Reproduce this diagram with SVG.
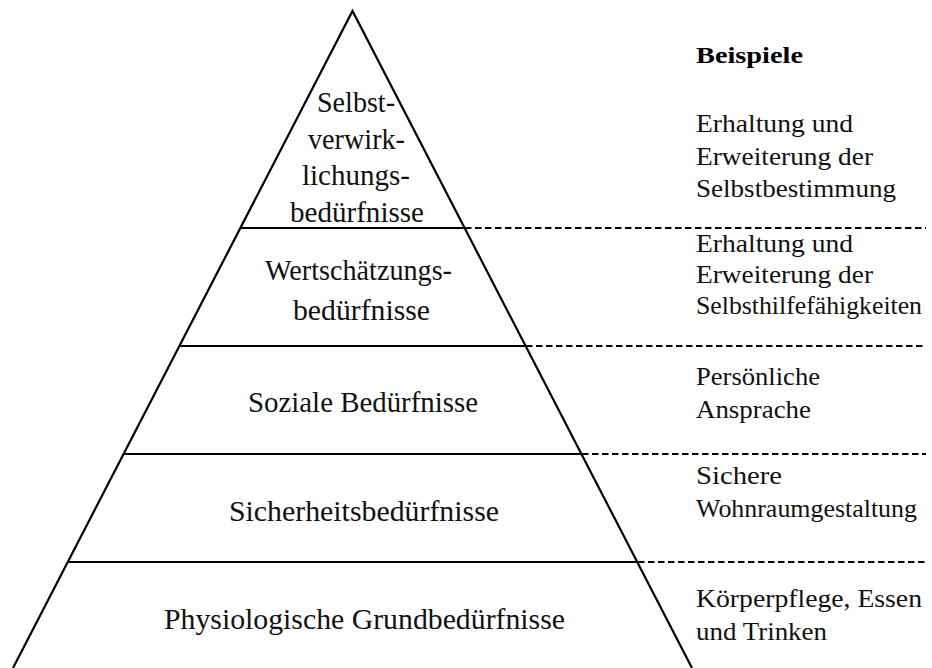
<svg xmlns="http://www.w3.org/2000/svg" width="932" height="668" viewBox="0 0 932 668">
<style>
.edge{stroke:#000;stroke-width:2.2;fill:none;stroke-linecap:butt}
.dash{stroke:#000;stroke-width:2;fill:none;stroke-dasharray:6.5 3.5}
.lvl{font-family:'Liberation Serif',serif;font-size:28.5px;fill:#111}
.ex{font-family:'Liberation Serif',serif;font-size:25px;fill:#111}
.hd{font-family:'Liberation Serif',serif;font-size:24px;font-weight:bold;fill:#000}
</style>
<rect width="932" height="668" fill="#fff"/>
<g id="pyramid">
<polyline class="edge" points="13,668 352.5,11 692,668"/>
</g>
<g id="connectors">
<line class="edge" x1="241" y1="228" x2="464" y2="228"/>
<line class="edge" x1="180" y1="346" x2="525" y2="346"/>
<line class="edge" x1="124" y1="454" x2="581" y2="454"/>
<line class="edge" x1="68" y1="562" x2="637" y2="562"/>
<line class="dash" x1="465" y1="228" x2="926" y2="228"/>
<line class="dash" x1="526" y1="346" x2="926" y2="346"/>
<line class="dash" x1="582" y1="454" x2="926" y2="454"/>
<line class="dash" x1="638" y1="562" x2="926" y2="562"/>
</g>
<g id="level5">
<text class="lvl" x="317" y="112" textLength="78" lengthAdjust="spacingAndGlyphs">Selbst-</text>
<text class="lvl" x="308" y="148.5" textLength="97" lengthAdjust="spacingAndGlyphs">verwirk-</text>
<text class="lvl" x="302" y="185" textLength="108" lengthAdjust="spacingAndGlyphs">lichungs-</text>
<text class="lvl" x="290" y="221.5" textLength="134" lengthAdjust="spacingAndGlyphs">bedürfnisse</text>
</g>
<g id="level4">
<text class="lvl" x="265" y="280" textLength="187" lengthAdjust="spacingAndGlyphs">Wertschätzungs-</text>
<text class="lvl" x="293" y="319.5" textLength="137" lengthAdjust="spacingAndGlyphs">bedürfnisse</text>
</g>
<g id="level3">
<text class="lvl" x="248" y="412" textLength="230" lengthAdjust="spacingAndGlyphs">Soziale Bedürfnisse</text>
</g>
<g id="level2">
<text class="lvl" x="229" y="521" textLength="270" lengthAdjust="spacingAndGlyphs">Sicherheitsbedürfnisse</text>
</g>
<g id="level1">
<text class="lvl" x="164" y="629" textLength="401" lengthAdjust="spacingAndGlyphs">Physiologische Grundbedürfnisse</text>
</g>
<g id="header">
<text class="hd" x="696" y="63" textLength="107" lengthAdjust="spacingAndGlyphs">Beispiele</text>
</g>
<g id="example5">
<text class="ex" x="696" y="132" textLength="157" lengthAdjust="spacingAndGlyphs">Erhaltung und</text>
<text class="ex" x="696" y="165" textLength="177" lengthAdjust="spacingAndGlyphs">Erweiterung der</text>
<text class="ex" x="696" y="197" textLength="200" lengthAdjust="spacingAndGlyphs">Selbstbestimmung</text>
</g>
<g id="example4">
<text class="ex" x="696" y="252" textLength="157" lengthAdjust="spacingAndGlyphs">Erhaltung und</text>
<text class="ex" x="696" y="283" textLength="177" lengthAdjust="spacingAndGlyphs">Erweiterung der</text>
<text class="ex" x="696" y="314" textLength="226" lengthAdjust="spacingAndGlyphs">Selbsthilfefähigkeiten</text>
</g>
<g id="example3">
<text class="ex" x="696" y="385" textLength="124" lengthAdjust="spacingAndGlyphs">Persönliche</text>
<text class="ex" x="696" y="418" textLength="115" lengthAdjust="spacingAndGlyphs">Ansprache</text>
</g>
<g id="example2">
<text class="ex" x="696" y="484" textLength="86" lengthAdjust="spacingAndGlyphs">Sichere</text>
<text class="ex" x="696" y="517" textLength="221" lengthAdjust="spacingAndGlyphs">Wohnraumgestaltung</text>
</g>
<g id="example1">
<text class="ex" x="696" y="607" textLength="226" lengthAdjust="spacingAndGlyphs">Körperpflege, Essen</text>
<text class="ex" x="696" y="640" textLength="131" lengthAdjust="spacingAndGlyphs">und Trinken</text>
</g>
</svg>
